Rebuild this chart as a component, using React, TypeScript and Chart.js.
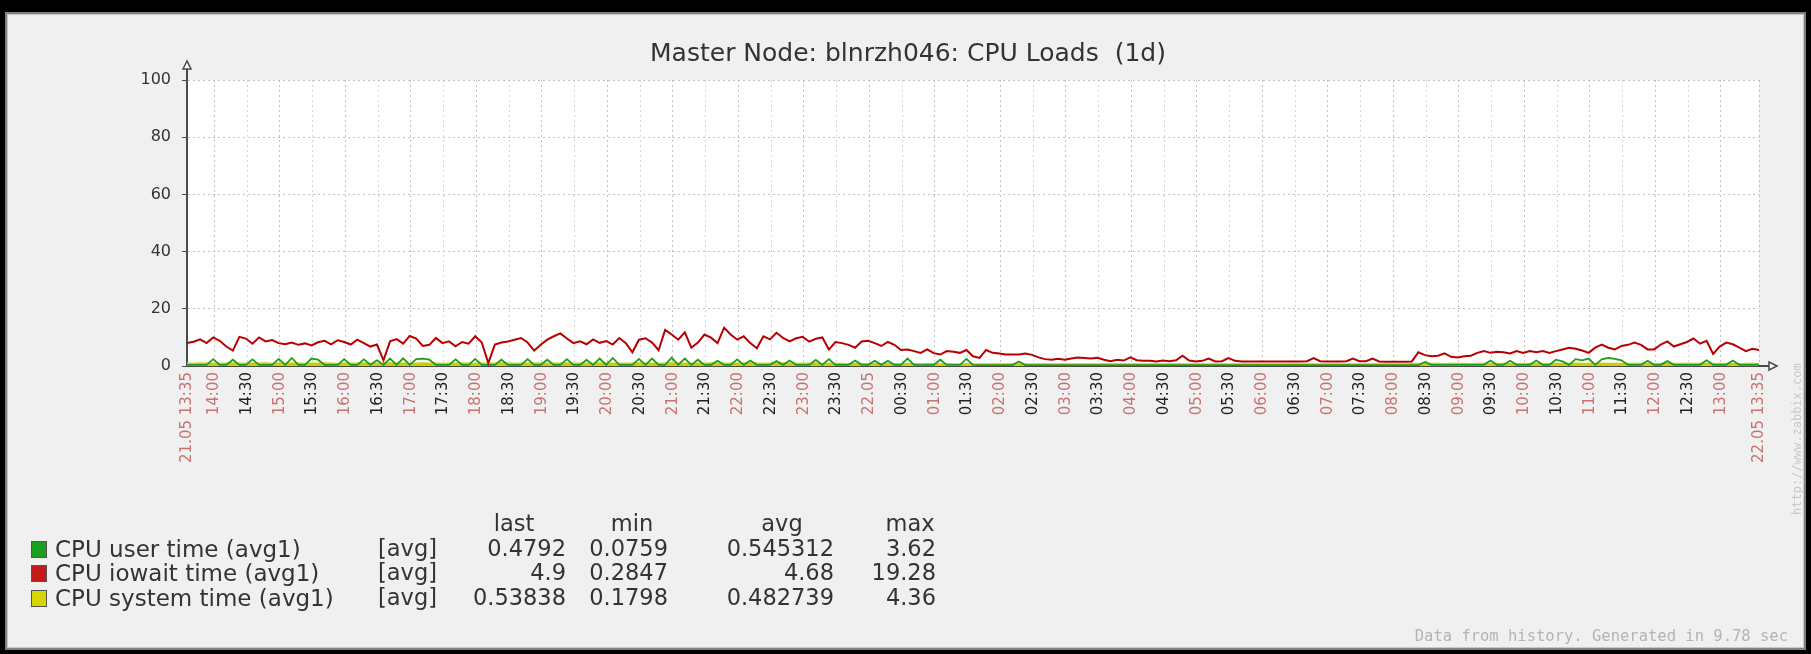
import React, { useEffect, useRef } from "react";
import { Chart, registerables } from "chart.js";

Chart.register(...registerables);

// ---------- data ----------
const title = "Master Node: blnrzh046: CPU Loads  (1d)";
const sampleStepMinutes = 6; // one sample every 6 minutes from 21.05 13:35

const tickMinutes = [
  0, 25, 55, 85, 115, 145, 175, 205, 235, 265, 295, 325, 355, 385, 415, 445, 475,
  505, 535, 565, 595, 625, 655, 685, 715, 745, 775, 805, 835, 865, 895, 925, 955,
  985, 1015, 1045, 1075, 1105, 1135, 1165, 1195, 1225, 1255, 1285, 1315, 1345,
  1375, 1405, 1440,
];
const tickLabels = [
  "21.05 13:35", "14:00", "14:30", "15:00", "15:30", "16:00", "16:30", "17:00",
  "17:30", "18:00", "18:30", "19:00", "19:30", "20:00", "20:30", "21:00", "21:30",
  "22:00", "22:30", "23:00", "23:30", "22.05", "00:30", "01:00", "01:30", "02:00",
  "02:30", "03:00", "03:30", "04:00", "04:30", "05:00", "05:30", "06:00", "06:30",
  "07:00", "07:30", "08:00", "08:30", "09:00", "09:30", "10:00", "10:30", "11:00",
  "11:30", "12:00", "12:30", "13:00", "22.05 13:35",
];
const yTicks = [0, 20, 40, 60, 80, 100];

const iowaitValues = [
  8.0, 8.5, 9.3, 8.0, 10.0, 8.8, 6.8, 5.4, 10.2, 9.6,
  7.8, 10.0, 8.6, 9.1, 8.0, 7.6, 8.2, 7.4, 7.9, 7.2,
  8.3, 8.8, 7.6, 9.0, 8.4, 7.5, 9.2, 8.0, 6.8, 7.5,
  2.0, 8.6, 9.4, 7.8, 10.5, 9.6, 7.0, 7.4, 9.8, 8.0,
  8.6, 6.9, 8.4, 7.8, 10.4, 8.2, 1.0, 7.5, 8.2, 8.6,
  9.2, 9.8, 8.2, 5.4, 7.4, 9.2, 10.4, 11.4, 9.6, 8.0,
  8.6, 7.6, 9.3, 8.1, 8.7, 7.5, 9.8, 8.0, 4.8, 9.2,
  9.7, 8.2, 5.5, 12.6, 11.0, 9.2, 11.8, 6.4, 8.2, 11.0,
  9.9, 8.0, 13.4, 11.0, 9.2, 10.4, 8.0, 6.2, 10.4, 9.3,
  11.6, 9.8, 8.6, 9.7, 10.2, 8.5, 9.5, 10.0, 5.8, 8.4,
  8.0, 7.4, 6.4, 8.6, 8.8, 8.0, 7.0, 8.4, 7.4, 5.6,
  5.8, 5.2, 4.6, 5.8, 4.5, 4.0, 5.2, 5.0, 4.6, 5.6,
  3.4, 2.8, 5.6, 4.6, 4.4, 4.0, 4.0, 4.0, 4.4, 3.9,
  3.0, 2.4, 2.2, 2.5, 2.2, 2.6, 3.0, 2.8, 2.6, 2.9,
  2.2, 1.7, 2.2, 1.9, 3.0, 2.0, 1.8, 1.8, 1.6, 1.9,
  1.7, 2.0, 3.6, 1.9, 1.6, 1.8, 2.6, 1.6, 1.7, 2.8,
  1.8, 1.6, 1.6, 1.6, 1.6, 1.6, 1.6, 1.6, 1.6, 1.6,
  1.6, 1.7, 2.8, 1.7, 1.6, 1.6, 1.6, 1.7, 2.6, 1.7,
  1.7, 2.6, 1.6, 1.5, 1.5, 1.5, 1.5, 1.6, 4.8, 3.8,
  3.4, 3.6, 4.4, 3.2, 3.0, 3.4, 3.6, 4.6, 5.2, 4.6,
  5.0, 4.8, 4.4, 5.2, 4.6, 5.2, 4.8, 5.2, 4.6, 5.2,
  5.8, 6.4, 6.0, 5.4, 4.6, 6.4, 7.5, 6.4, 5.8, 7.0,
  7.4, 8.2, 7.4, 5.8, 5.8, 7.5, 8.6, 6.8, 7.6, 8.4,
  9.6, 7.8, 8.8, 4.2, 6.8, 8.2, 7.6, 6.4, 5.2, 6.0,
  5.6,
];

const userValues = [
  0.4, 0.4, 0.4, 0.4, 2.4, 0.4, 0.4, 2.2, 0.4, 0.4,
  2.3, 0.4, 0.4, 0.4, 2.5, 0.4, 2.8, 0.4, 0.4, 2.6,
  2.2, 0.4, 0.4, 0.4, 2.4, 0.4, 0.4, 2.3, 0.4, 2.0,
  0.4, 2.6, 0.4, 2.7, 0.4, 2.4, 2.6, 2.2, 0.4, 0.4,
  0.4, 2.3, 0.4, 0.4, 2.5, 0.4, 0.4, 0.4, 2.2, 0.4,
  0.4, 0.4, 2.4, 0.4, 0.4, 2.2, 0.4, 0.4, 2.4, 0.4,
  0.4, 2.1, 0.4, 2.6, 0.4, 2.8, 0.4, 0.4, 0.4, 2.5,
  0.4, 2.6, 0.4, 0.4, 2.9, 0.4, 2.6, 0.4, 2.2, 0.4,
  0.4, 1.8, 0.4, 0.4, 2.3, 0.4, 1.9, 0.4, 0.4, 0.4,
  1.7, 0.4, 1.9, 0.4, 0.4, 0.4, 2.1, 0.4, 2.4, 0.4,
  0.4, 0.4, 1.9, 0.4, 0.4, 1.8, 0.4, 1.8, 0.4, 0.4,
  2.6, 0.4, 0.4, 0.4, 0.4, 2.2, 0.4, 0.4, 0.4, 2.5,
  0.4, 0.3, 0.3, 0.3, 0.3, 0.3, 0.3, 1.6, 0.3, 0.3,
  0.3, 0.3, 0.3, 0.3, 0.3, 0.3, 0.3, 0.3, 0.3, 0.3,
  0.3, 0.3, 0.3, 0.3, 0.3, 0.3, 0.3, 0.3, 0.3, 0.3,
  0.3, 0.3, 0.3, 0.3, 0.3, 0.3, 0.3, 0.3, 0.3, 0.3,
  0.3, 0.3, 0.3, 0.3, 0.3, 0.3, 0.3, 0.3, 0.3, 0.3,
  0.3, 0.3, 0.3, 0.3, 0.3, 0.3, 0.3, 0.3, 0.3, 0.3,
  0.3, 0.3, 0.3, 0.3, 0.3, 0.3, 0.3, 0.3, 0.3, 1.4,
  0.4, 0.4, 0.4, 0.4, 0.4, 0.4, 0.4, 0.4, 0.4, 1.9,
  0.4, 0.4, 1.8, 0.4, 0.4, 0.4, 1.9, 0.4, 0.4, 2.2,
  1.6, 0.4, 2.4, 2.0, 2.6, 0.4, 2.3, 2.8, 2.5, 2.0,
  0.4, 0.4, 0.4, 1.8, 0.4, 0.4, 1.7, 0.4, 0.4, 0.4,
  0.4, 0.4, 2.0, 0.4, 0.4, 0.4, 1.9, 0.4, 0.4, 0.4,
  0.48,
];

const systemValues = [
  0.8, 0.7, 0.9, 0.8, 0.8, 0.7, 0.8, 0.9, 0.8, 0.7,
  0.8, 0.8, 0.9, 0.7, 0.8, 0.8, 0.9, 0.8, 0.7, 0.8,
  0.8, 0.9, 0.8, 0.7, 0.8, 0.8, 0.8, 0.9, 0.8, 0.7,
  0.8, 0.9, 0.8, 0.8, 0.7, 0.8, 0.9, 0.8, 0.8, 0.7,
  0.8, 0.8, 0.9, 0.8, 0.7, 0.8, 0.8, 0.8, 0.9, 0.8,
  0.7, 0.8, 0.8, 0.9, 0.8, 0.7, 0.8, 0.8, 0.9, 0.8,
  0.8, 0.7, 0.8, 0.9, 0.8, 0.8, 0.7, 0.8, 0.8, 0.9,
  0.8, 0.8, 0.7, 0.8, 0.9, 0.8, 0.8, 0.7, 0.8, 0.8,
  0.9, 0.8, 0.7, 0.8, 0.8, 0.8, 0.9, 0.8, 0.7, 0.8,
  0.8, 0.9, 0.8, 0.7, 0.8, 0.8, 0.8, 0.7, 0.8, 0.7,
  0.7, 0.6, 0.7, 0.7, 0.6, 0.7, 0.6, 0.7, 0.6, 0.6,
  0.6, 0.6, 0.5, 0.6, 0.6, 0.5, 0.6, 0.5, 0.5, 0.6,
  0.5, 0.5, 0.5, 0.5, 0.5, 0.5, 0.5, 0.5, 0.5, 0.5,
  0.5, 0.5, 0.5, 0.5, 0.5, 0.5, 0.5, 0.5, 0.5, 0.5,
  0.5, 0.5, 0.5, 0.5, 0.5, 0.5, 0.5, 0.5, 0.5, 0.5,
  0.5, 0.5, 0.5, 0.5, 0.5, 0.5, 0.5, 0.5, 0.5, 0.5,
  0.5, 0.5, 0.5, 0.5, 0.5, 0.5, 0.5, 0.5, 0.5, 0.5,
  0.5, 0.5, 0.5, 0.5, 0.5, 0.5, 0.5, 0.5, 0.5, 0.5,
  0.5, 0.5, 0.5, 0.5, 0.5, 0.5, 0.5, 0.6, 0.7, 0.7,
  0.7, 0.7, 0.6, 0.7, 0.7, 0.7, 0.6, 0.7, 0.7, 0.7,
  0.7, 0.7, 0.7, 0.6, 0.7, 0.7, 0.7, 0.7, 0.6, 0.7,
  0.7, 0.7, 0.8, 0.7, 0.7, 0.7, 0.8, 0.7, 0.7, 0.7,
  0.7, 0.7, 0.7, 0.7, 0.6, 0.7, 0.7, 0.7, 0.7, 0.7,
  0.7, 0.7, 0.7, 0.7, 0.7, 0.7, 0.7, 0.6, 0.7, 0.7,
  0.54,
];

const legendNames = ["CPU user time (avg1)", "CPU iowait time (avg1)", "CPU system time (avg1)"];
const legendColors = ["#1e9e1e", "#c41a1a", "#d6d600"];
const legendFunc = ["[avg]", "[avg]", "[avg]"];
const lastValues = ["0.4792", "4.9", "0.53838"];
const minValues = ["0.0759", "0.2847", "0.1798"];
const avgValues = ["0.545312", "4.68", "0.482739"];
const maxValues = ["3.62", "19.28", "4.36"];
const legendHeaders = ["last", "min", "avg", "max"];
const footerText = "Data from history. Generated in 9.78 sec";
const sideText = "http://www.zabbix.com";

// ---------- helpers ----------
const toPoints = (vals: number[]) => vals.map((y, i) => ({ x: i * sampleStepMinutes, y }));
const isMajor = (i: number) => {
  const l = tickLabels[i] || "";
  return l.endsWith(":00") || l.includes(".");
};

const W = 1811;
const H = 654;
const FONT = "'DejaVu Sans', sans-serif";

const chartDecor = {
  id: "chartDecor",
  beforeDraw(chart: any) {
    const { ctx, chartArea: a } = chart;
    ctx.save();
    ctx.fillStyle = "#ffffff";
    ctx.fillRect(a.left, a.top, a.right - a.left, a.bottom - a.top);
    ctx.restore();
  },
  afterDraw(chart: any) {
    const { ctx, chartArea: a } = chart;
    ctx.save();
    ctx.strokeStyle = "#4a4a4a";
    ctx.lineWidth = 2;
    ctx.beginPath();
    ctx.moveTo(a.left, a.top + 1);
    ctx.lineTo(a.left, a.top - 12);
    ctx.stroke();
    ctx.beginPath();
    ctx.moveTo(a.right - 1, a.bottom);
    ctx.lineTo(a.right + 10, a.bottom);
    ctx.stroke();
    ctx.fillStyle = "#ffffff";
    ctx.lineWidth = 1.5;
    ctx.beginPath();
    ctx.moveTo(a.left, a.top - 19);
    ctx.lineTo(a.left - 4, a.top - 11);
    ctx.lineTo(a.left + 4, a.top - 11);
    ctx.closePath();
    ctx.fill();
    ctx.stroke();
    ctx.beginPath();
    ctx.moveTo(a.right + 18, a.bottom);
    ctx.lineTo(a.right + 10, a.bottom - 4);
    ctx.lineTo(a.right + 10, a.bottom + 4);
    ctx.closePath();
    ctx.fill();
    ctx.stroke();
    ctx.restore();
  },
};

function Txt(props: {
  x: number; y: number; w?: number; align?: "left" | "right" | "center";
  size: number; color?: string; family?: string; children: React.ReactNode;
}) {
  const w = props.w ?? 400;
  const align = props.align ?? "left";
  const left = align === "left" ? props.x : align === "right" ? props.x - w : props.x - w / 2;
  return (
    <div
      style={{
        position: "absolute",
        left,
        top: props.y - props.size * 0.65,
        width: w,
        textAlign: align,
        fontFamily: props.family ?? FONT,
        fontSize: props.size,
        lineHeight: `${Math.round(props.size * 1.3)}px`,
        color: props.color ?? "#222",
        whiteSpace: "pre",
      }}
    >
      {props.children}
    </div>
  );
}

export default function App() {
  const canvasRef = useRef<HTMLCanvasElement | null>(null);

  useEffect(() => {
    if (!canvasRef.current) return;
    const chart = new Chart(canvasRef.current, {
      type: "line",
      data: {
        datasets: [
          {
            label: legendNames[1],
            data: toPoints(iowaitValues),
            borderColor: "#b80000",
            borderWidth: 2,
            pointRadius: 0,
            tension: 0,
            order: 0,
          },
          {
            label: legendNames[0],
            data: toPoints(userValues),
            borderColor: "#1e9e1e",
            borderWidth: 1.8,
            pointRadius: 0,
            tension: 0,
            order: 1,
          },
          {
            label: legendNames[2],
            data: toPoints(systemValues),
            borderColor: "#cccc00",
            backgroundColor: "rgba(228,236,140,0.75)",
            fill: "origin",
            borderWidth: 2.5,
            pointRadius: 0,
            tension: 0,
            order: 2,
          },
        ],
      },
      options: {
        animation: false,
        responsive: false,
        maintainAspectRatio: false,
        layout: { padding: { left: 0, right: 52, top: 80, bottom: 188 } },
        plugins: {
          legend: { display: false },
          tooltip: { enabled: false },
          title: { display: false },
        },
        scales: {
          x: {
            type: "linear",
            min: 0,
            max: 1440,
            afterBuildTicks: (s: any) => {
              s.ticks = tickMinutes.map((v) => ({ value: v }));
            },
            afterFit: (s: any) => {
              s.height = 100;
            },
            ticks: {
              autoSkip: false,
              maxRotation: 90,
              minRotation: 90,
              padding: 6,
              font: { family: FONT, size: 15 },
              color: (ctx: any) => (isMajor(ctx.index) ? "#c87272" : "#222222"),
              callback: (_v: any, i: number) => tickLabels[i],
            },
            grid: {
              color: (ctx: any) => (isMajor(ctx.index) ? "#c0c0c0" : "#d4d4d4"),
              lineWidth: 1,
              drawTicks: false,
            },
            border: { color: "#4a4a4a", width: 2, dash: [2, 3] },
          },
          y: {
            min: 0,
            max: 100,
            afterBuildTicks: (s: any) => {
              s.ticks = yTicks.map((v) => ({ value: v }));
            },
            afterFit: (s: any) => {
              s.width = 187;
            },
            ticks: {
              padding: 11,
              font: { family: FONT, size: 16 },
              color: "#333333",
            },
            grid: {
              color: "#c0c0c0",
              lineWidth: 1,
              tickLength: 5,
              tickColor: "#4a4a4a",
              tickBorderDash: [],
            },
            border: { color: "#4a4a4a", width: 2, dash: [2, 3] },
          },
        },
      },
      plugins: [chartDecor],
    } as any);
    return () => chart.destroy();
  }, []);

  const rowY = [549, 573, 598];
  const headerY = 524;
  const LS = 22.5;
  return (
    <div style={{ position: "fixed", left: 0, top: 0, width: W, height: H, background: "#000", overflow: "hidden" }}>
      <div
        style={{
          position: "absolute",
          left: 5,
          top: 12,
          width: 1801,
          height: 638,
          boxSizing: "border-box",
          border: "2px solid #808080",
          boxShadow: "inset 0 0 0 1px #c8c8c8",
          background: "#f0f0f0",
        }}
      />
      <canvas
        ref={canvasRef}
        width={W}
        height={H}
        style={{ position: "absolute", left: 0, top: 0, width: W, height: H }}
      />
      <Txt x={908} y={52} w={1000} align="center" size={25} color="#333">{title}</Txt>

      {legendHeaders.map((h, i) => (
        <Txt key={h} x={[514, 632, 782, 910][i]} y={headerY} w={120} align="center" size={LS} color="#333">{h}</Txt>
      ))}
      {legendNames.map((n, i) => (
        <React.Fragment key={n}>
          <div
            style={{
              position: "absolute",
              left: 31,
              top: rowY[i] - 8,
              width: 14,
              height: 15,
              background: legendColors[i],
              border: "1px solid #555",
            }}
          />
          <Txt x={55} y={rowY[i]} size={23} color="#333">{n}</Txt>
          <Txt x={378} y={rowY[i]} size={LS} color="#333">{legendFunc[i]}</Txt>
          <Txt x={566} y={rowY[i]} w={150} align="right" size={LS} color="#333">{lastValues[i]}</Txt>
          <Txt x={668} y={rowY[i]} w={150} align="right" size={LS} color="#333">{minValues[i]}</Txt>
          <Txt x={834} y={rowY[i]} w={150} align="right" size={LS} color="#333">{avgValues[i]}</Txt>
          <Txt x={936} y={rowY[i]} w={150} align="right" size={LS} color="#333">{maxValues[i]}</Txt>
        </React.Fragment>
      ))}
      <Txt x={1788} y={636} w={500} align="right" size={15.5} color="#b4b4b4" family="'DejaVu Sans Mono', monospace">{footerText}</Txt>
      <div
        style={{
          position: "absolute",
          left: 1797 - 75,
          top: 440 - 8,
          width: 150,
          height: 16,
          lineHeight: "16px",
          textAlign: "center",
          transform: "rotate(-90deg)",
          fontFamily: "'DejaVu Sans Mono', monospace",
          fontSize: 12,
          color: "#c8c8c8",
          whiteSpace: "pre",
        }}
      >
        {sideText}
      </div>
    </div>
  );
}
